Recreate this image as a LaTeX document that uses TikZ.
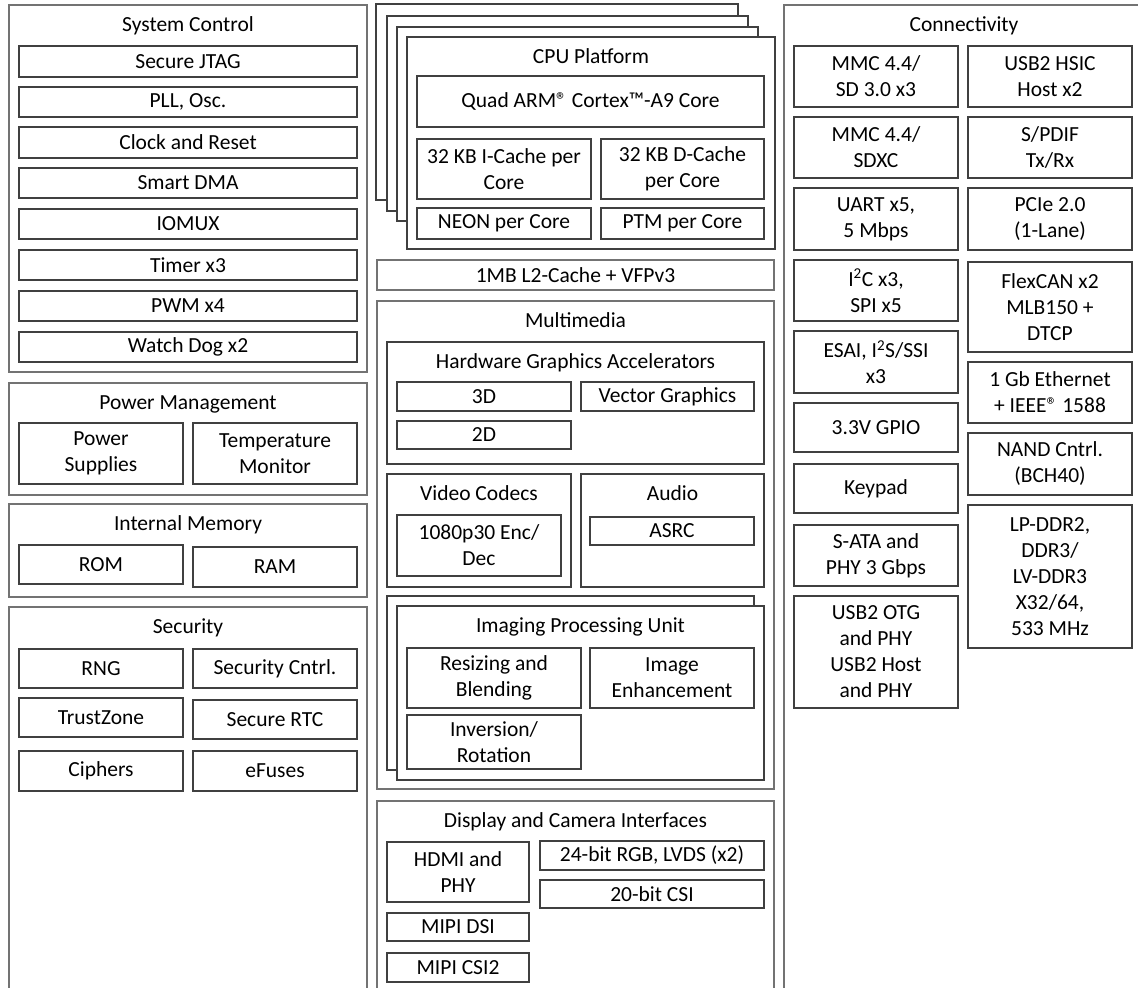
\documentclass[tikz,border=0pt]{standalone}
\usepackage{fontspec}
\setmainfont{Carlito}
\usetikzlibrary{positioning}

% box from corner (x1,y1) to corner (x2,y2), in pixel units
\newcommand{\blk}[7][]{\node[blk, #1, minimum width={(#5)-(#3)}, minimum height={(#6)-(#4)}] (#2) at ({((#3)+(#5))/2},{((#4)+(#6))/2}) {#7};}

\begin{document}
\begin{tikzpicture}[x=1pt, y=-1pt]
    \tikzset{blk/.style={rectangle, draw=black!75, line width=1.5pt, fill=white, inner sep=0pt, align=center, font=\fontsize{21.5}{26}\selectfont}}
    \tikzset{outer/.style={draw=black!55}}
    \tikzset{ttl/.style={inner sep=0pt, text height=13.5pt, text depth=0pt, font=\fontsize{21.5}{26}\selectfont}}

    \useasboundingbox (0,0) rectangle (1138,988);
    \clip (0,0) rectangle (1138,988);

    % System Control
    \blk[outer]{sys}{9}{5}{367}{372}{}
    \node[ttl, below=13.5pt of sys.north] (sysT) {System Control};
    \blk{jtag}{19}{46}{357}{77}{Secure JTAG}
    \blk{pll}{19}{87}{357}{117}{PLL, Osc.}
    \blk{clk}{19}{127}{357}{158}{Clock and Reset}
    \blk{dma}{19}{168}{357}{198}{Smart DMA}
    \blk{iomux}{19}{209}{357}{239}{IOMUX}
    \blk{timer}{19}{250}{357}{280}{Timer x3}
    \blk{pwm}{19}{291}{357}{321}{PWM x4}
    \blk{wdog}{19}{332}{357}{362}{Watch Dog x2}

    % Power Management
    \blk[outer]{pwr}{9}{383}{367}{495}{}
    \node[ttl, below=13.5pt of pwr.north] (pwrT) {Power Management};
    \blk{psup}{19}{423}{183}{484}{Power\\Supplies}
    \blk{temp}{193}{423}{357}{484}{Temperature\\Monitor}

    % Internal Memory
    \blk[outer]{mem}{9}{504}{367}{597}{}
    \node[ttl, below=13.5pt of mem.north] (memT) {Internal Memory};
    \blk{rom}{19}{545}{183}{584}{ROM}
    \blk{ram}{193}{547}{357}{587}{RAM}

    % Security
    \blk[outer]{sec}{9}{607}{367}{1000}{}
    \node[ttl, below=13.5pt of sec.north] (secT) {Security};
    \blk{rng}{19}{649}{183}{688}{RNG}
    \blk{secc}{193}{649}{357}{688}{Security Cntrl.}
    \blk{tz}{19}{698}{183}{737}{TrustZone}
    \blk{rtc}{193}{700}{357}{739}{Secure RTC}
    \blk{ciph}{19}{751}{183}{791}{Ciphers}
    \blk{efuse}{193}{751}{357}{791}{eFuses}

    % CPU Platform (stacked cores)
    \blk{cpu3}{376}{4}{738}{200}{}
    \blk{cpu2}{387}{16}{748}{211}{}
    \blk{cpu1}{397}{27}{758}{221}{}
    \blk{cpu}{407}{37}{775}{249}{}
    \node[ttl, below=13.5pt of cpu.north] (cpuT) {CPU Platform};
    \blk{arm}{417}{76}{764}{127}{Quad ARM® Cortex™-A9 Core}
    \blk{icache}{417}{139}{591}{199}{32 KB I-Cache per\\Core}
    \blk{dcache}{601}{139}{764}{199}{32 KB D-Cache\\per Core}
    \blk{neon}{417}{208}{591}{239}{NEON per Core}
    \blk{ptm}{601}{208}{764}{239}{PTM per Core}

    \blk[outer]{l2}{377}{260}{774}{290}{1MB L2-Cache + VFPv3}

    % Multimedia
    \blk[outer]{mm}{377}{301}{774}{789}{}
    \node[ttl, below=13.5pt of mm.north] (mmT) {Multimedia};
    \blk{hwg}{387}{342}{764}{464}{}
    \node[ttl, below=13.5pt of hwg.north] (hwgT) {Hardware Graphics Accelerators};
    \blk{g3d}{397}{382}{571}{411}{3D}
    \blk{vg}{581}{382}{754}{411}{Vector Graphics}
    \blk{g2d}{397}{421}{571}{449}{2D}
    \blk{vid}{387}{474}{571}{587}{}
    \node[ttl, below=13.5pt of vid.north] (vidT) {Video Codecs};
    \blk{codec}{397}{515}{561}{576}{1080p30 Enc/\\Dec}
    \blk{aud}{581}{474}{764}{587}{}
    \node[ttl, below=13.5pt of aud.north] (audT) {Audio};
    \blk{asrc}{590}{517}{754}{545}{ASRC}
    \blk{ipu2}{387}{596}{754}{770}{}
    \blk{ipu}{397}{606}{764}{780}{}
    \node[ttl, below=13.5pt of ipu.north] (ipuT) {Imaging Processing Unit};
    \blk{resz}{407}{648}{581}{708}{Resizing and\\Blending}
    \blk{enh}{590}{648}{754}{708}{Image\\Enhancement}
    \blk{inv}{407}{715}{581}{769}{Inversion/\\Rotation}

    % Display and Camera Interfaces
    \blk[outer]{disp}{377}{801}{774}{1000}{}
    \node[ttl, below=13.5pt of disp.north] (dispT) {Display and Camera Interfaces};
    \blk{hdmi}{387}{842}{529}{902}{HDMI and\\PHY}
    \blk{rgb}{540}{841}{764}{870}{24-bit RGB, LVDS (x2)}
    \blk{csi}{540}{880}{764}{908}{20-bit CSI}
    \blk{dsi}{387}{913}{529}{941}{MIPI DSI}
    \blk{csi2}{387}{953}{529}{982}{MIPI CSI2}

    % Connectivity
    \blk[outer]{conn}{784}{5}{1144}{1000}{}
    \node[ttl, below=13.5pt of conn.north] (connT) {Connectivity};
    \blk{mmc1}{794}{46}{958}{107}{MMC 4.4/\\SD 3.0 x3}
    \blk{hsic}{968}{46}{1132}{107}{USB2 HSIC\\Host x2}
    \blk{mmc2}{794}{117}{958}{178}{MMC 4.4/\\SDXC}
    \blk{spdif}{968}{117}{1132}{178}{S/PDIF\\Tx/Rx}
    \blk{uart}{794}{188}{958}{250}{UART x5,\\5 Mbps}
    \blk{pcie}{968}{188}{1132}{250}{PCIe 2.0\\(1-Lane)}
    \blk{i2c}{794}{260}{958}{321}{I\textsuperscript{2}C x3,\\SPI x5}
    \blk{flexcan}{968}{262}{1132}{352}{FlexCAN x2\\MLB150 +\\DTCP}
    \blk{esai}{794}{331}{958}{393}{ESAI, I\textsuperscript{2}S/SSI\\x3}
    \blk{eth}{968}{362}{1132}{423}{1 Gb Ethernet\\+ IEEE® 1588}
    \blk{gpio}{794}{403}{958}{452}{3.3V GPIO}
    \blk{nand}{968}{433}{1132}{495}{NAND Cntrl.\\(BCH40)}
    \blk{key}{794}{464}{958}{513}{Keypad}
    \blk{ddr}{968}{505}{1132}{648}{LP-DDR2,\\DDR3/\\LV-DDR3\\X32/64,\\533 MHz}
    \blk{sata}{794}{525}{958}{586}{S-ATA and\\PHY 3 Gbps}
    \blk{usb}{794}{596}{958}{708}{USB2 OTG\\and PHY\\USB2 Host\\and PHY}
\end{tikzpicture}
\end{document}
